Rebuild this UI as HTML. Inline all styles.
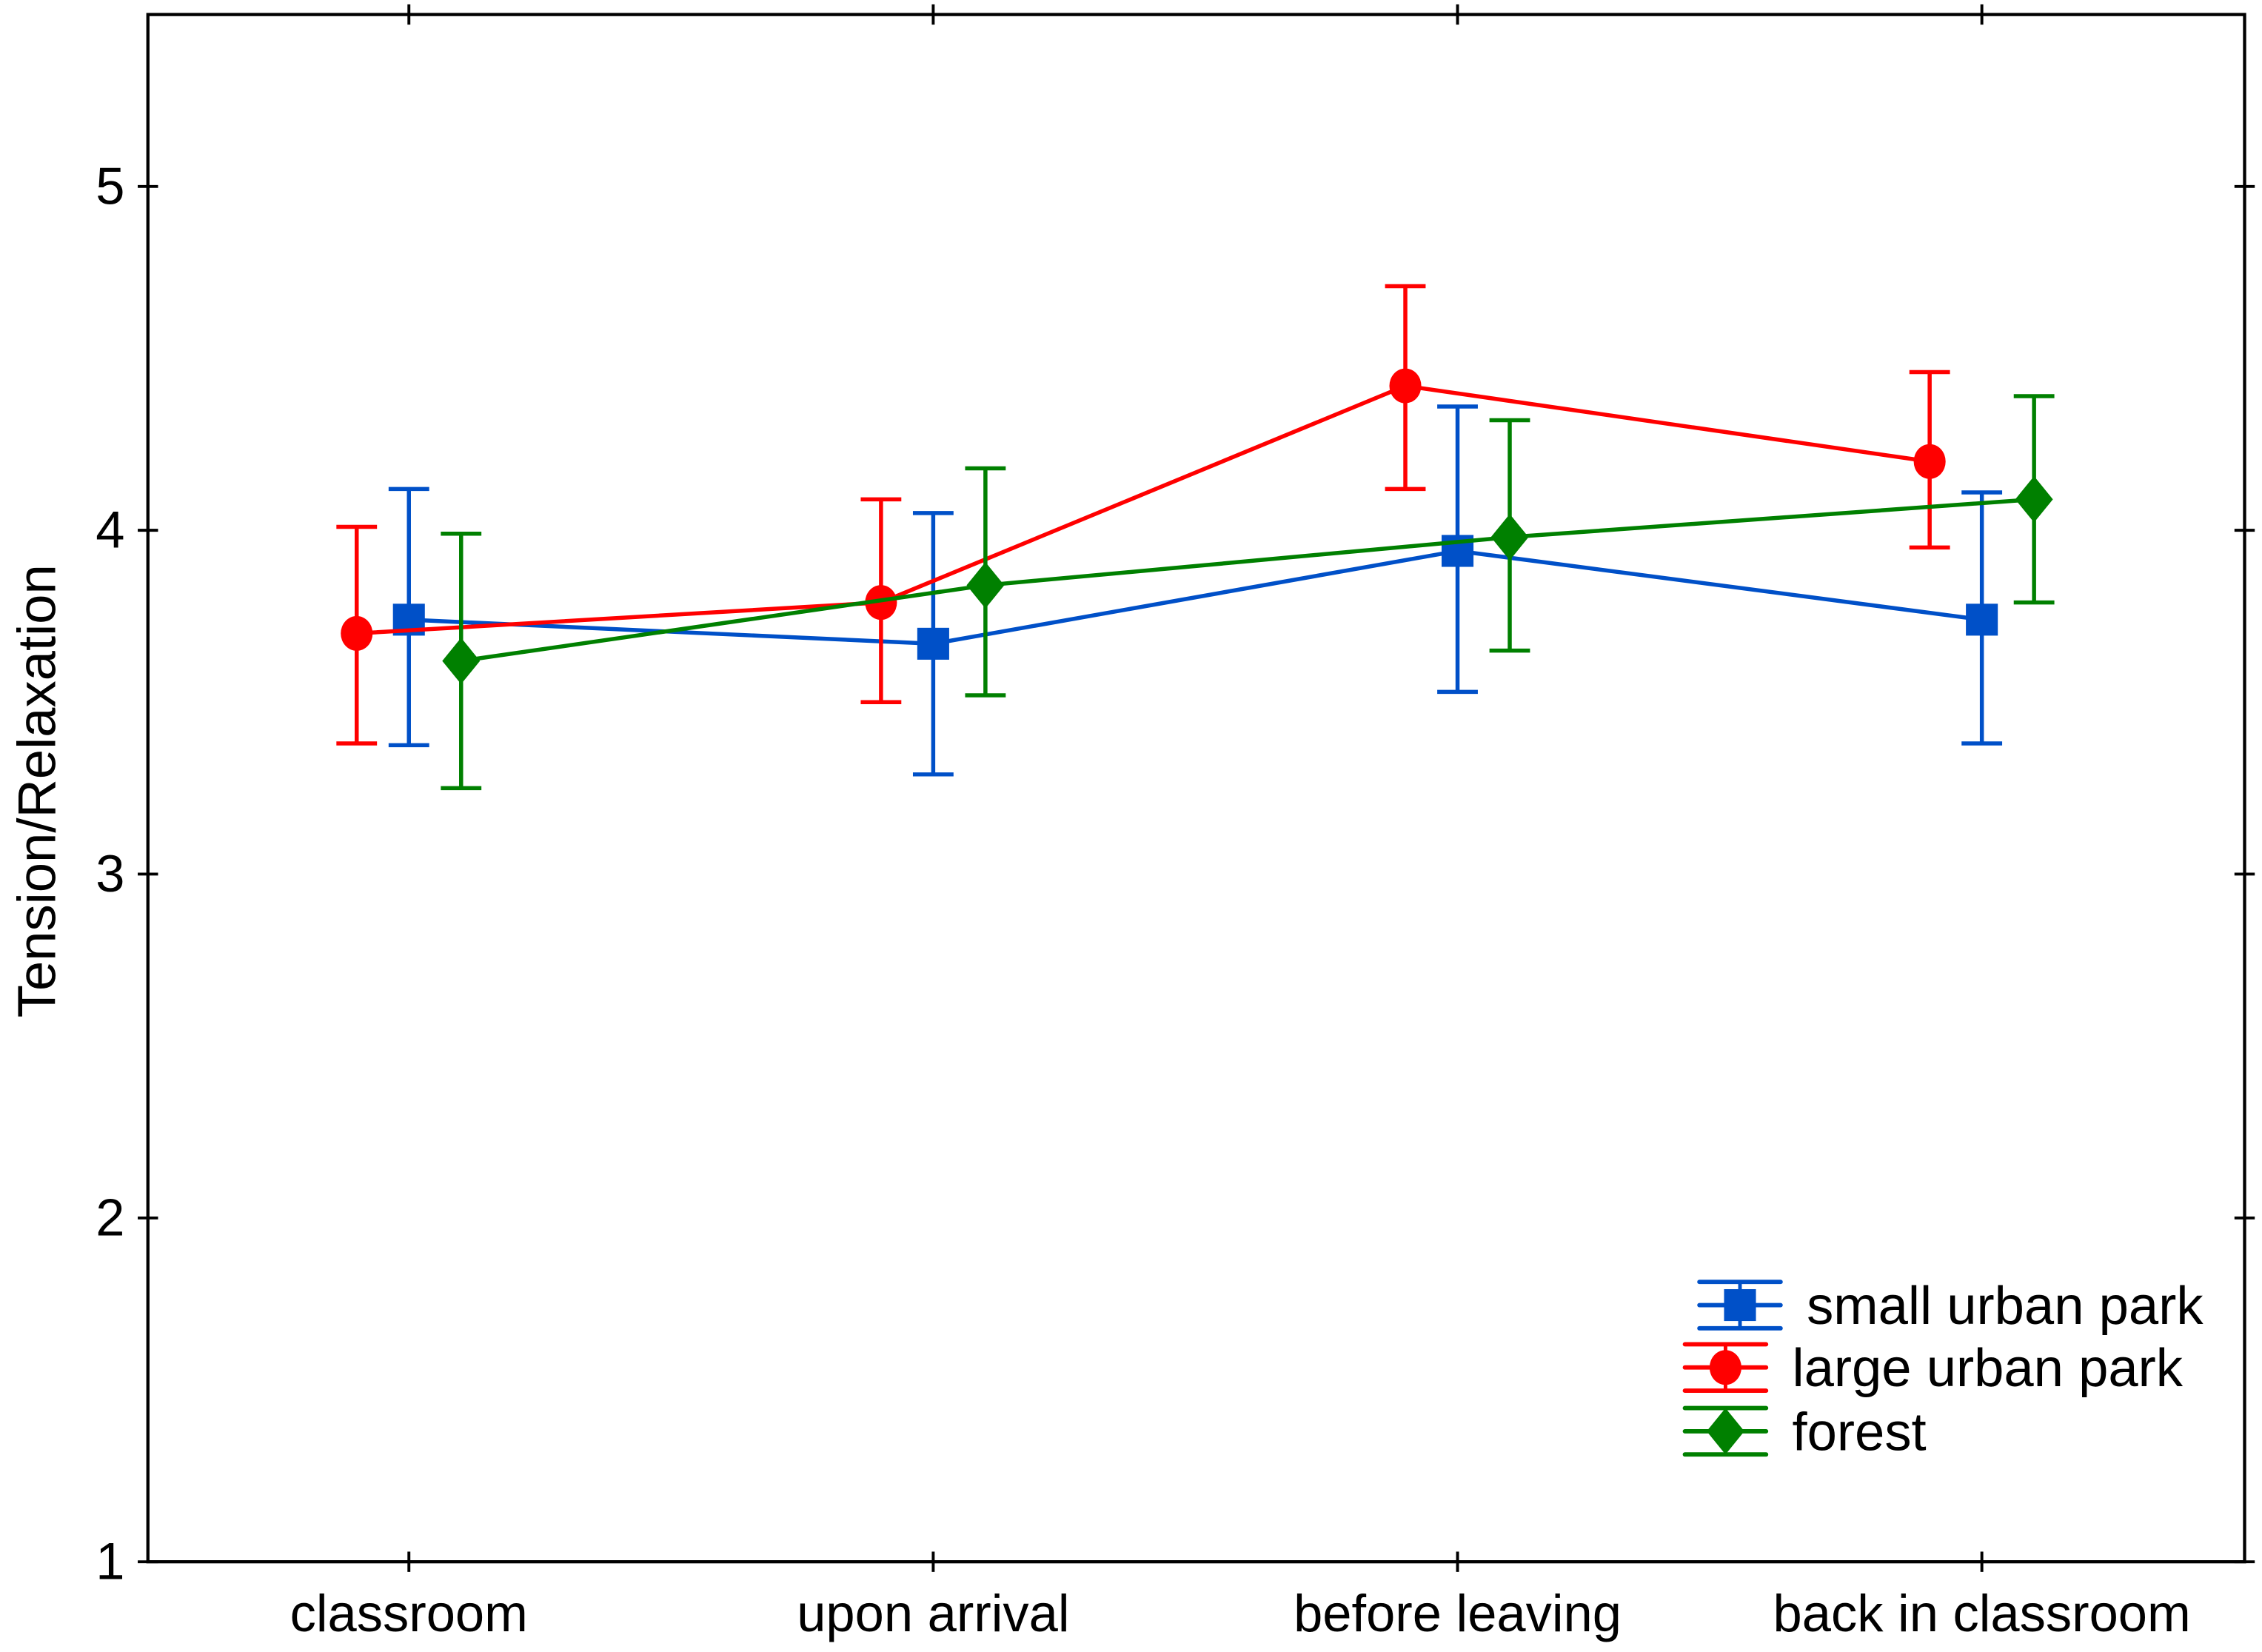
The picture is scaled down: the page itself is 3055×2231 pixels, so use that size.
<!DOCTYPE html>
<html><head><meta charset="utf-8"><style>
html,body{margin:0;padding:0;background:#fff;}
svg{display:block;font-family:"Liberation Sans",Arial,sans-serif;}
</style></head><body>
<svg id="chart" width="3055" height="2231" viewBox="0 0 1560 1139.2" xmlns="http://www.w3.org/2000/svg">
<rect width="1560" height="1139.2" fill="#fff"/>
<g id="g"></g>
</svg>
<script>
const categories = ["classroom","upon arrival","before leaving","back in classroom"];
const seriesNames = ["small urban park","large urban park","forest"];
const smallMean = [3.74,3.67,3.94,3.74];
const smallLo = [3.375,3.29,3.53,3.38];
const smallHi = [4.12,4.05,4.36,4.11];
const largeMean = [3.70,3.79,4.42,4.20];
const largeLo = [3.38,3.50,4.12,3.95];
const largeHi = [4.01,4.09,4.71,4.46];
const forestMean = [3.62,3.84,3.98,4.09];
const forestLo = [3.25,3.52,3.65,3.79];
const forestHi = [3.99,4.18,4.32,4.39];
const yTicks = [1,2,3,4,5];

const NS="http://www.w3.org/2000/svg";
const g=document.getElementById('g');
const L=102,R=1548,T=10,B=1077,yMin=1,yMax=5.5;
const y=v=>B-(v-yMin)/(yMax-yMin)*(B-T);
const x=i=>282+i*361.6;
function el(t,a,p){const e=document.createElementNS(NS,t);for(const k in a)e.setAttribute(k,a[k]);(p||g).appendChild(e);return e;}

const frame=el('rect',{x:L,y:T,width:R-L,height:B-T,fill:'none',stroke:'#000','stroke-width':2.2});


yTicks.forEach(v=>{
  el('line',{x1:L-7,x2:L+7,y1:y(v),y2:y(v),stroke:'#000','stroke-width':2});
  el('line',{x1:R-7,x2:R+7,y1:y(v),y2:y(v),stroke:'#000','stroke-width':2});
  const t=el('text',{x:L-16,y:y(v)+12,'text-anchor':'end','font-size':36});
  t.textContent=v;
  
  
});
categories.forEach((c,i)=>{
  el('line',{x1:x(i),x2:x(i),y1:B-7,y2:B+7,stroke:'#000','stroke-width':2});
  el('line',{x1:x(i),x2:x(i),y1:T-7,y2:T+7,stroke:'#000','stroke-width':2});
  const t=el('text',{x:x(i),y:1125,'text-anchor':'middle','font-size':36});
  t.textContent=c;
  
  
});
const yt=el('text',{x:0,y:0,'text-anchor':'middle','font-size':37,transform:`translate(38,${(T+B)/2+2}) rotate(-90)`});
yt.textContent="Tension/Relaxation";



function marker(type,cx,cy,col,p){
  if(type==='sq') return el('rect',{x:cx-11,y:cy-11,width:22,height:22,fill:col},p);
  if(type==='ci') return el('ellipse',{cx:cx,cy:cy,rx:11,ry:12,fill:col},p);
  return el('polygon',{points:`${cx},${cy-16} ${cx+13},${cy} ${cx},${cy+16} ${cx-13},${cy}`,fill:col},p);
}
const series=[
 {name:seriesNames[0],m:smallMean,lo:smallLo,hi:smallHi,col:'#0050c8',off:0,mk:'sq'},
 {name:seriesNames[1],m:largeMean,lo:largeLo,hi:largeHi,col:'#ff0000',off:-36,mk:'ci'},
 {name:seriesNames[2],m:forestMean,lo:forestLo,hi:forestHi,col:'#008000',off:36,mk:'di'}
];
series.forEach((s,si)=>{
  const sg=el('g',{});
  
  
  el('polyline',{points:s.m.map((v,i)=>`${x(i)+s.off},${y(v)}`).join(' '),fill:'none',stroke:s.col,'stroke-width':2.8},sg);
  s.m.forEach((v,i)=>{
    const cx=x(i)+s.off;
    el('line',{x1:cx,x2:cx,y1:y(s.lo[i]),y2:y(s.hi[i]),stroke:s.col,'stroke-width':2.8},sg);
    el('line',{x1:cx-14,x2:cx+14,y1:y(s.lo[i]),y2:y(s.lo[i]),stroke:s.col,'stroke-width':2.8},sg);
    el('line',{x1:cx-14,x2:cx+14,y1:y(s.hi[i]),y2:y(s.hi[i]),stroke:s.col,'stroke-width':2.8},sg);
    const mk=marker(s.mk,cx,y(v),s.col,sg);
    
    
  });
});
// legend
const legY=[900,943,987],legX=[1200,1190,1190],txtX=[1246,1236,1236];
series.forEach((s,i)=>{
  const lg=el('g',{});
  
  
  const cx=legX[i],cy=legY[i];
  [-16,0,16].forEach(d=>el('line',{x1:cx-28,x2:cx+28,y1:cy+d,y2:cy+d,stroke:s.col,'stroke-width':3,'stroke-linecap':'round'},lg));
  el('line',{x1:cx,x2:cx,y1:cy-16,y2:cy+16,stroke:s.col,'stroke-width':2.5},lg);
  marker(s.mk,cx,cy,s.col,lg);
  const t=el('text',{x:txtX[i],y:cy+13,'font-size':37},lg);
  t.textContent=s.name;
});
</script>
</body></html>
